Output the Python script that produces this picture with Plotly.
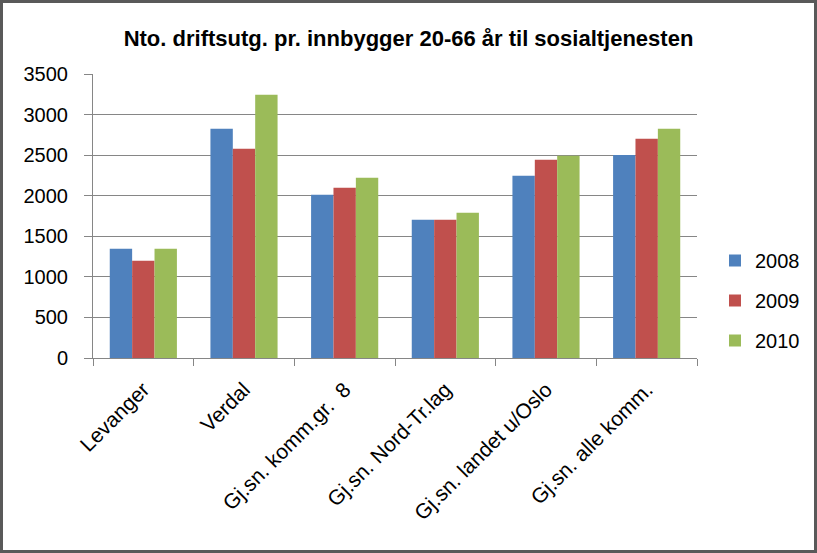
import plotly.graph_objects as go

categories = ["Levanger", "Verdal", "Gj.sn. komm.gr.  8", "Gj.sn. Nord-Tr.lag",
              "Gj.sn. landet u/Oslo", "Gj.sn. alle komm."]
years = ["2008", "2009", "2010"]
v2008 = [1345, 2825, 2011, 1703, 2246, 2501]
v2009 = [1197, 2579, 2097, 1703, 2443, 2702]
v2010 = [1345, 3245, 2221, 1789, 2492, 2825]
colors = ["#4F81BD", "#C0504D", "#9BBB59"]
yticks = [0, 500, 1000, 1500, 2000, 2500, 3000, 3500]

FONT = "Liberation Sans"
W, H = 817, 553
PW, PH, L, T = 604, 284, 93, 74
fig = go.Figure()
for i, (name, vals) in enumerate(zip(years, [v2008, v2009, v2010])):
    fig.add_trace(go.Bar(x=categories, y=vals, name=name, marker_color=colors[i],
                         marker_line_width=0, legendgroup=name))

fig.update_layout(
    width=W, height=H, autosize=False,
    margin=dict(l=L, r=W - L - PW, t=T, b=H - T - PH),
    paper_bgcolor="white", plot_bgcolor="white",
    barmode="group", bargap=0.333, bargroupgap=0,
    font=dict(family=FONT, color="black"),
    title=dict(text="<b>Nto. driftsutg. pr. innbygger 20-66 år til sosialtjenesten</b>",
               x=0.5, xref="container", xanchor="center", y=1 - 38/H, yanchor="middle",
               font=dict(size=22, family=FONT, color="black")),
    legend=dict(xref="container", yref="container", x=715 / W, xanchor="left",
                y=1 - 241 / H, yanchor="top",
                font=dict(size=20, family=FONT), tracegroupgap=11, itemwidth=30,
                traceorder="grouped", bgcolor="rgba(0,0,0,0)"),
    xaxis=dict(tickangle=-45, tickfont=dict(size=21, family=FONT),
               showline=True, linecolor="#868686", linewidth=1,
               ticks="outside", tickson="boundaries", ticklen=7, tickcolor="#868686",
               ticklabelstandoff=10, showgrid=False, automargin=False),
    yaxis=dict(range=[0, 3500], tickvals=yticks, tickfont=dict(size=20, family=FONT),
               showgrid=True, gridcolor="#868686", gridwidth=1,
               showline=True, linecolor="#868686", linewidth=1,
               ticks="outside", ticklen=8, tickcolor="#868686",
               ticklabelstandoff=12, zeroline=False, automargin=False),
    shapes=[dict(type="rect", xref="paper", yref="paper",
                 x0=(1.5 - L) / PW, x1=(815.5 - L) / PW,
                 y0=(T + PH - 551.5) / PH, y1=(T + PH - 1.5) / PH,
                 line=dict(color="#595959", width=3))],
)
fig.write_html("out.html")
